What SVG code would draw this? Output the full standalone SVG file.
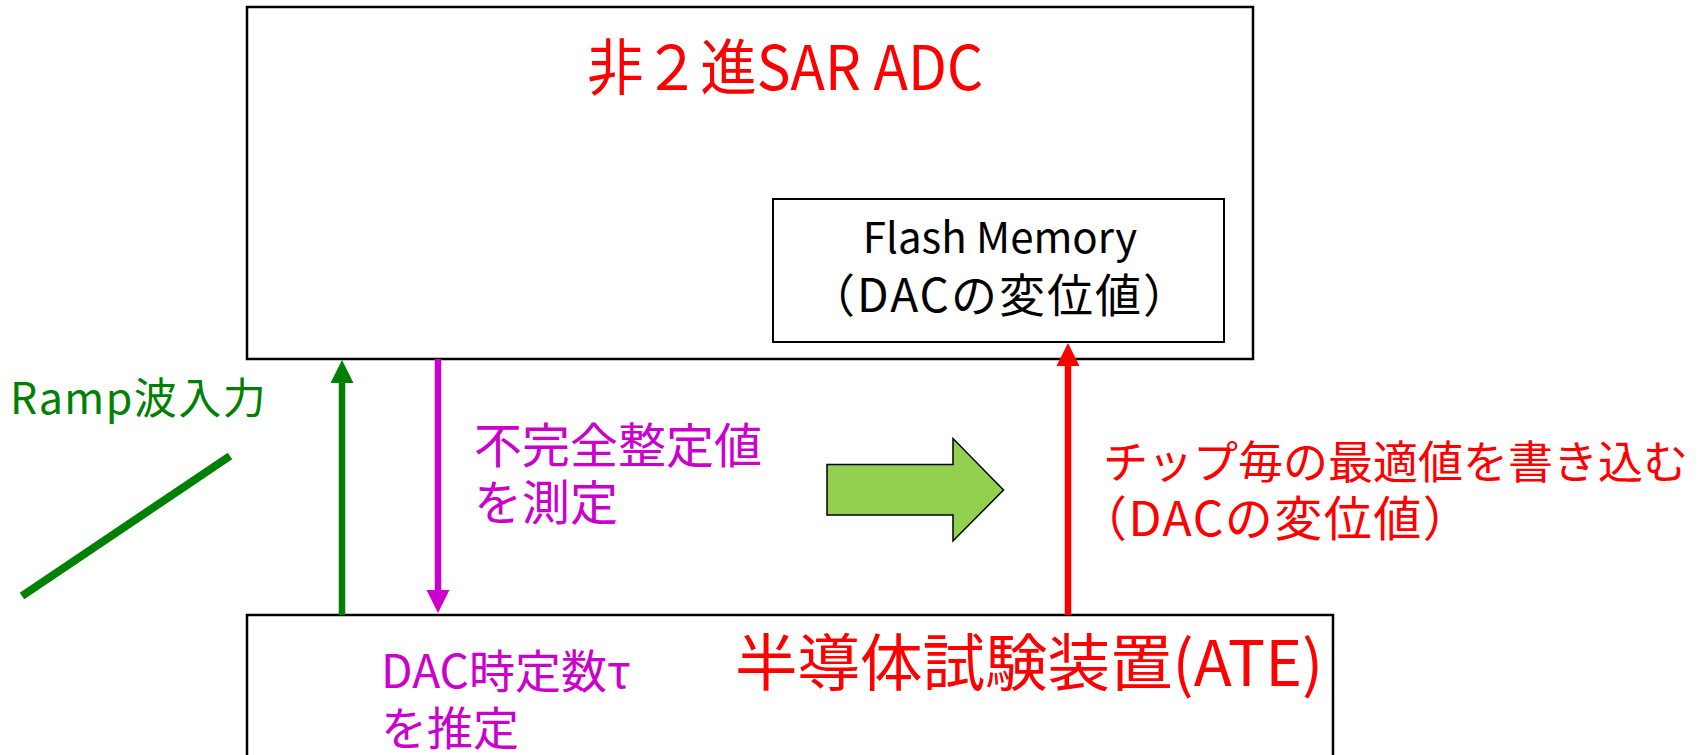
<svg xmlns="http://www.w3.org/2000/svg" width="1702" height="755" viewBox="0 0 1702 755">
<style>
text{font-family:'Noto Sans CJK JP','Noto Sans',sans-serif}
.box{fill:#fff;stroke:#000;stroke-width:2.5}
.red{fill:#FF0000}
.grn{fill:#008000}
.mag{fill:#CC00CC}
.blk{fill:#000}
</style>
<defs>
<marker id="ahG" markerUnits="userSpaceOnUse" markerWidth="24" markerHeight="24" refX="0" refY="12" orient="auto"><path d="M0,0.5 L23,12 L0,23.5 z" fill="#008000"/></marker>
<marker id="ahM" markerUnits="userSpaceOnUse" markerWidth="24" markerHeight="24" refX="0" refY="12" orient="auto"><path d="M0,0.5 L23,12 L0,23.5 z" fill="#CC00CC"/></marker>
<marker id="ahR" markerUnits="userSpaceOnUse" markerWidth="24" markerHeight="24" refX="0" refY="12" orient="auto"><path d="M0,0.5 L23,12 L0,23.5 z" fill="#FF0000"/></marker>
</defs>
<rect width="1702" height="755" fill="#fff"/>
<g id="adc">
<rect class="box" x="247" y="7" width="1006" height="352"/>
<text class="red" x="587" y="90" font-size="61" textLength="396" lengthAdjust="spacingAndGlyphs">非２進SAR ADC</text>
</g>
<g id="flash-memory">
<rect class="box" x="773" y="199" width="451" height="143" style="stroke-width:2"/>
<text class="blk" x="1000" y="253" font-size="42" text-anchor="middle">Flash Memory</text>
<text class="blk" x="1000" y="312" font-size="46" text-anchor="middle" letter-spacing="2">（DACの変位値）</text>
</g>
<g id="ate">
<rect class="box" x="247" y="615" width="1086" height="200"/>
<text class="red" x="735" y="686" font-size="62.5">半導体試験装置(ATE)</text>
<text class="mag" font-size="46"><tspan x="381" y="688">DAC時定数τ</tspan><tspan x="381" y="745">を推定</tspan></text>
</g>
<g id="ramp-input">
<line x1="22" y1="596" x2="230" y2="456" stroke="#008000" stroke-width="8"/>
<text class="grn" x="10" y="414" font-size="43" letter-spacing="1.5">Ramp波入力</text>
</g>
<g id="measure-label">
<text class="mag" font-size="48"><tspan x="474" y="463">不完全整定値</tspan><tspan x="474" y="520">を測定</tspan></text>
</g>
<g id="write-label">
<text class="red"><tspan x="1103" y="479" font-size="45">チップ毎の最適値を書き込む</tspan><tspan x="1079" y="536" font-size="48" letter-spacing="1.5">（DACの変位値）</tspan></text>
</g>
<g id="block-arrow">
<path d="M827,464.5 L953,464.5 L953,438.5 L1003.5,490 L953,541 L953,515 L827,515 Z" fill="#92D050" stroke="#000" stroke-width="1.5"/>
</g>
<g id="connectors" fill="none" stroke-width="6.5">
<line x1="342" y1="615" x2="342" y2="383" stroke="#008000" marker-end="url(#ahG)"/>
<line x1="438" y1="359" x2="438" y2="590" stroke="#CC00CC" marker-end="url(#ahM)"/>
<line x1="1068" y1="615" x2="1068" y2="366" stroke="#FF0000" marker-end="url(#ahR)"/>
</g>
</svg>
